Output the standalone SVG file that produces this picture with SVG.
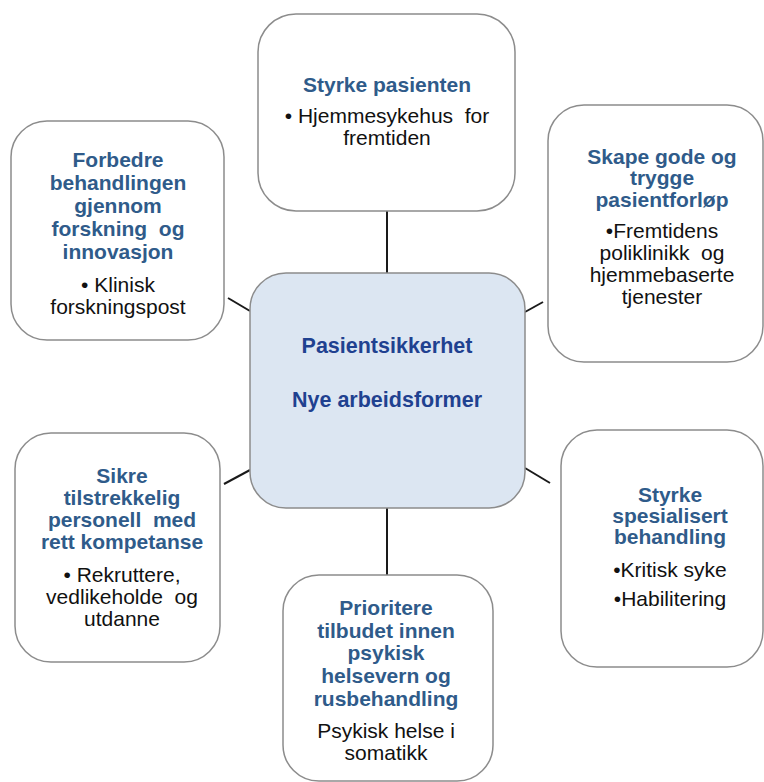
<svg xmlns="http://www.w3.org/2000/svg" width="764" height="782" viewBox="0 0 764 782">
  <style>
    .box { fill: #ffffff; stroke: #8c8c8c; stroke-width: 1.5; }
    .core { fill: #dce6f2; stroke: #8c8c8c; stroke-width: 1.5; }
    .link { stroke: #1a1a1a; stroke-width: 2; fill: none; }
    text { font-family: "Liberation Sans", Arial, sans-serif; text-anchor: middle; }
    .title { font-weight: bold; font-size: 21px; fill: #2f5b8a; }
    .body { font-size: 21px; fill: #111111; }
    .core-title { font-weight: bold; font-size: 21.5px; fill: #1f4190; }
  </style>
  <rect width="764" height="782" fill="#ffffff"/>

  <!-- spokes from the central box -->
  <g id="connectors">
    <line class="link" x1="387" y1="211" x2="387" y2="273"/>
    <line class="link" x1="387" y1="508" x2="387" y2="575"/>
    <line class="link" x1="228" y1="298" x2="250" y2="311"/>
    <line class="link" x1="525" y1="312" x2="543" y2="302"/>
    <line class="link" x1="224" y1="484" x2="250" y2="470"/>
    <line class="link" x1="525" y1="468" x2="550" y2="483"/>
  </g>

  <g id="center">
    <rect class="core" x="250" y="273" width="275" height="235" rx="36"/>
    <text class="core-title" x="387" y="353">Pasientsikkerhet</text>
    <text class="core-title" x="387" y="407">Nye arbeidsformer</text>
  </g>

  <g id="styrke-pasienten">
    <rect class="box" x="258" y="14" width="257" height="197" rx="38"/>
    <text class="title" x="387" y="92">Styrke pasienten</text>
    <text class="body" x="387" y="123" xml:space="preserve">• Hjemmesykehus  for</text>
    <text class="body" x="387" y="145">fremtiden</text>
  </g>

  <g id="forbedre-behandlingen">
    <rect class="box" x="11" y="121" width="213" height="219" rx="36"/>
    <text class="title" x="118" y="167">Forbedre</text>
    <text class="title" x="118" y="190">behandlingen</text>
    <text class="title" x="118" y="213">gjennom</text>
    <text class="title" x="118" y="236" xml:space="preserve">forskning  og</text>
    <text class="title" x="118" y="259">innovasjon</text>
    <text class="body" x="118" y="292">• Klinisk</text>
    <text class="body" x="118" y="314">forskningspost</text>
  </g>

  <g id="skape-pasientforlop">
    <rect class="box" x="548" y="105" width="215" height="257" rx="36"/>
    <text class="title" x="662" y="164">Skape gode og</text>
    <text class="title" x="662" y="185">trygge</text>
    <text class="title" x="662" y="207">pasientforløp</text>
    <text class="body" x="662" y="238">•Fremtidens</text>
    <text class="body" x="662" y="260" xml:space="preserve">poliklinikk  og</text>
    <text class="body" x="662" y="282">hjemmebaserte</text>
    <text class="body" x="662" y="304">tjenester</text>
  </g>

  <g id="sikre-personell">
    <rect class="box" x="15" y="433" width="205" height="229" rx="36"/>
    <text class="title" x="122" y="483">Sikre</text>
    <text class="title" x="122" y="505">tilstrekkelig</text>
    <text class="title" x="122" y="527" xml:space="preserve">personell  med</text>
    <text class="title" x="122" y="549">rett kompetanse</text>
    <text class="body" x="122" y="582">• Rekruttere,</text>
    <text class="body" x="122" y="604" xml:space="preserve">vedlikeholde  og</text>
    <text class="body" x="122" y="626">utdanne</text>
  </g>

  <g id="spesialisert-behandling">
    <rect class="box" x="561" y="430" width="202" height="237" rx="36"/>
    <text class="title" x="670" y="502">Styrke</text>
    <text class="title" x="670" y="523">spesialisert</text>
    <text class="title" x="670" y="544">behandling</text>
    <text class="body" x="670" y="577">•Kritisk syke</text>
    <text class="body" x="670" y="606">•Habilitering</text>
  </g>

  <g id="psykisk-helsevern">
    <rect class="box" x="283" y="575" width="210" height="206" rx="36"/>
    <text class="title" x="386" y="615">Prioritere</text>
    <text class="title" x="386" y="638">tilbudet innen</text>
    <text class="title" x="386" y="660">psykisk</text>
    <text class="title" x="386" y="683">helsevern og</text>
    <text class="title" x="386" y="706">rusbehandling</text>
    <text class="body" x="386" y="738">Psykisk helse i</text>
    <text class="body" x="386" y="760">somatikk</text>
  </g>
</svg>
